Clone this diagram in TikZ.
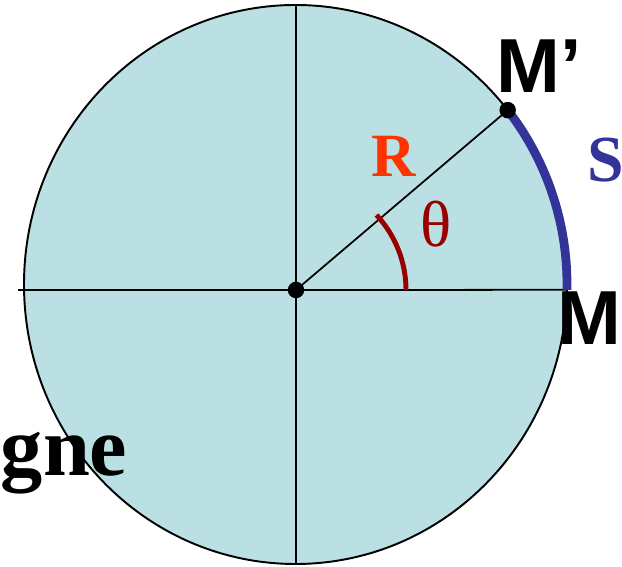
\documentclass[tikz,border=0pt]{standalone}
\usepackage{fontspec}
\setmainfont{Liberation Serif}
\newfontfamily\arialfont{Liberation Sans}
\usetikzlibrary{calc, positioning}
\definecolor{discfill}{RGB}{186,224,227}
\definecolor{arcblue}{RGB}{51,51,153}
\definecolor{anglered}{RGB}{153,0,0}
\definecolor{radiusred}{RGB}{255,51,0}

\begin{document}
\begin{tikzpicture}[
        x=0.02cm, y=0.02cm,
        axis/.style={draw=black, line width=1pt},
        dot/.style={circle, fill=black, inner sep=0pt, minimum size=0.33cm},
        pointlabel/.style={font=\arialfont\bfseries\fontsize{43.6}{50}\selectfont, inner sep=0pt, anchor=base west},
        sidelabel/.style={inner sep=0pt, anchor=base west}
    ]
        \useasboundingbox (0,0) rectangle (622,567);

        % disc and axes
        \coordinate (C) at (295.5,282.5);
        \coordinate (O) at (296,277);
        \coordinate (M) at ($(C)+(-1.1:271.5 and 279.5)$);
        \coordinate (Mp) at ($(C)+(38.6:271.5 and 279.5)$);
        \coordinate (left) at (18,277);
        \coordinate (top) at (296,562);
        \coordinate (bottom) at (296,3);

        \fill[discfill] (C) ellipse[x radius=271.5, y radius=279.5];
        \draw[axis] (left) -- (M);
        \draw[axis] (bottom) -- (top);
        \draw[axis] (O) -- (Mp);
        \draw[black, line width=1.1pt] (C) ellipse[x radius=271.5, y radius=279.5];

        % arc S and angle
        \draw[arcblue, line width=5pt] (M) arc[start angle=-1.1, end angle=38.6, x radius=271.5, y radius=279.5];
        \draw[anglered, line width=2.8pt] ($(O)+(110,0)$) arc[start angle=0, end angle=43, radius=110];

        \node[dot] (Odot) at (O) {};
        \node[dot] (Mpdot) at (Mp) {};

        \node[pointlabel] (Mlab) at (557.5,222) {M};
        \node[pointlabel] (Mplab) at (496.5,474) {M’};
        \node[sidelabel, text=arcblue, font=\bfseries\fontsize{37.4}{44}\selectfont] (Slab) at (587.5,385) {S};
        \node[sidelabel, text=radiusred, font=\bfseries\fontsize{35}{42}\selectfont] (Rlab) at (371,390) {R};
        \node[sidelabel, text=anglered, font=\fontsize{37}{44}\selectfont] (thetalab) at (420.5,320) {θ};
        \node[sidelabel, font=\bfseries\fontsize{48}{56}\selectfont] (gnelab) at (0.5,91) {gne};
    \end{tikzpicture}
\end{document}
